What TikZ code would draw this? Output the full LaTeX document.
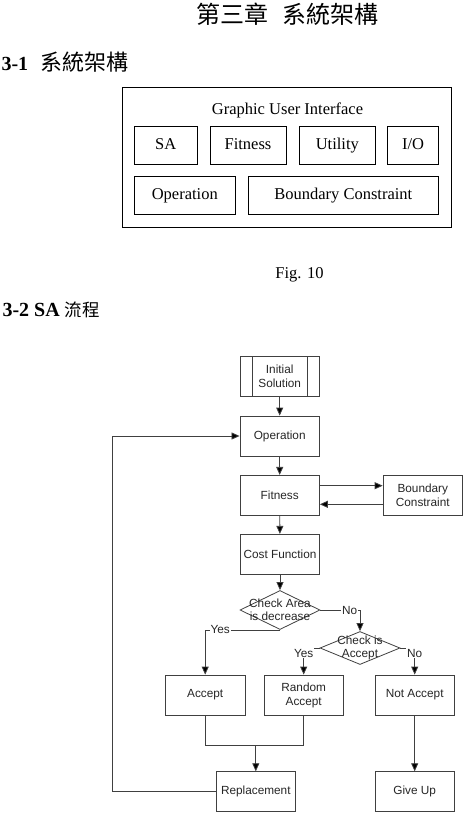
\documentclass[tikz,border=0pt]{standalone}
\usepackage{fontspec}
\setmainfont{Liberation Serif}
\setsansfont{Liberation Sans}
\newfontfamily\cjk{Noto Sans CJK TC}
\usetikzlibrary{shapes.geometric, arrows.meta}

\begin{document}
\begin{tikzpicture}[x=1pt, y=-1pt,
    mod/.style={draw, line width=0.8pt, minimum height=38pt, inner sep=0pt, text height=11.5pt, text depth=3.5pt, font=\fontsize{16.5}{19}\selectfont},
    blk/.style={draw=black!75, line width=0.8pt, minimum width=79.5pt, minimum height=40pt, inner sep=0pt, align=center, text=black!85, font=\sffamily\fontsize{11.8}{14}\selectfont},
    dec/.style={diamond, draw=black!75, line width=0.8pt, minimum width=80pt, inner sep=0pt},
    dtxt/.style={align=center, inner sep=0pt, text=black!85, font=\sffamily\fontsize{11.8}{13.4}\selectfont},
    lbl/.style={fill=white, inner sep=1pt, text=black!85, font=\sffamily\fontsize{11.8}{13.4}\selectfont},
    arr/.style={draw=black!75, line width=0.8pt, -{Triangle[length=8pt, width=7pt, fill=black]}},
    ln/.style={draw=black!75, line width=0.8pt}]
    \useasboundingbox (0,0) rectangle (463,835);
    \node[font=\cjk\fontsize{24}{26}\selectfont] (title) at (287.5,14) {第三章\hspace{14pt}系統架構};
    \node[anchor=base west, font=\bfseries\fontsize{20}{24}\selectfont] (sec1) at (-2,70) {3-1\hspace{12pt}{\cjk\mdseries\fontsize{22}{24}\selectfont 系統架構}};
    \node[mod, minimum width=329pt, minimum height=140pt] (gui) at (286.5,157) {};
    \node[anchor=base, font=\fontsize{16.5}{19}\selectfont] (guit) at (287.5,114.5) {Graphic User Interface};
    \node[mod, minimum width=63.3pt] (sa) at (165.7,145) {SA};
    \node[mod, minimum width=76pt] (fitm) at (248,145) {Fitness};
    \node[mod, minimum width=76.7pt] (util) at (337.3,145) {Utility};
    \node[mod, minimum width=50.7pt] (io) at (413,145) {I/O};
    \node[mod, minimum width=101.7pt] (opm) at (184.8,195.8) {Operation};
    \node[mod, minimum width=190pt] (bcm) at (343.3,195.8) {Boundary Constraint};
    \node[anchor=base, font=\fontsize{16.5}{19}\selectfont] (cap) at (299.5,278) {Fig. 10};
    \node[anchor=base west, font=\bfseries\fontsize{20}{24}\selectfont] (sec2) at (-1,316.3) {3-2 SA {\cjk\mdseries\fontsize{17.5}{20}\selectfont 流程}};

    \node[blk] (init) at (279.7,376.7) {Initial\\Solution};
    \draw[ln] ([xshift=12.4pt]init.north west) -- ([xshift=12.4pt]init.south west)
              ([xshift=-12.4pt]init.north east) -- ([xshift=-12.4pt]init.south east);
    \node[blk] (op) at (279.7,436) {Operation};
    \node[blk] (fit) at (279.7,495.3) {Fitness};
    \node[blk] (bc) at (422.8,495.3) {Boundary\\Constraint};
    \node[blk] (cost) at (280,554.3) {Cost Function};
    \node[dec, minimum height=39pt, label={[dtxt]center:{Check Area\\is decrease}}] (d1) at (280,610) {};
    \node[dec, minimum height=33pt, label={[dtxt]center:{Check is\\Accept}}] (d2) at (360,648) {};
    \node[blk] (acc) at (205.2,695) {Accept};
    \node[blk] (racc) at (303.7,695) {Random\\Accept};
    \node[blk] (nacc) at (414.7,695) {Not Accept};
    \node[blk] (repl) at (255.8,791.7) {Replacement};
    \node[blk] (give) at (414.7,791.7) {Give Up};
    \coordinate (join) at (255.8,745.7);
    \coordinate (back) at (112.7,791.7);

    \draw[arr] (init) -- (op);
    \draw[arr] (op) -- (fit);
    \draw[arr] ([yshift=9.6pt]fit.east) -- ([yshift=9.6pt]bc.west);
    \draw[arr] ([yshift=-9pt]bc.west) -- ([yshift=-9pt]fit.east);
    \draw[arr] (fit) -- (cost);
    \draw[arr] (cost) -- (d1);
    \draw[arr] (d1.south) -| node[lbl, pos=0.4] {Yes} (acc.north);
    \draw[arr] (d1.east) -| node[lbl, pos=0.37] {No} (d2.north);
    \draw[arr] (d2.west) -| node[lbl, pos=0.6] {Yes} (racc.north);
    \draw[arr] (d2.east) -| node[lbl, pos=0.6] {No} (nacc.north);
    \draw[ln] (acc.south) |- (join) -| (racc.south);
    \draw[arr] (join) -- (repl.north);
    \draw[arr] (nacc) -- (give);
    \draw[arr] (repl.west) -- (back) |- (op.west);
\end{tikzpicture}
\end{document}
